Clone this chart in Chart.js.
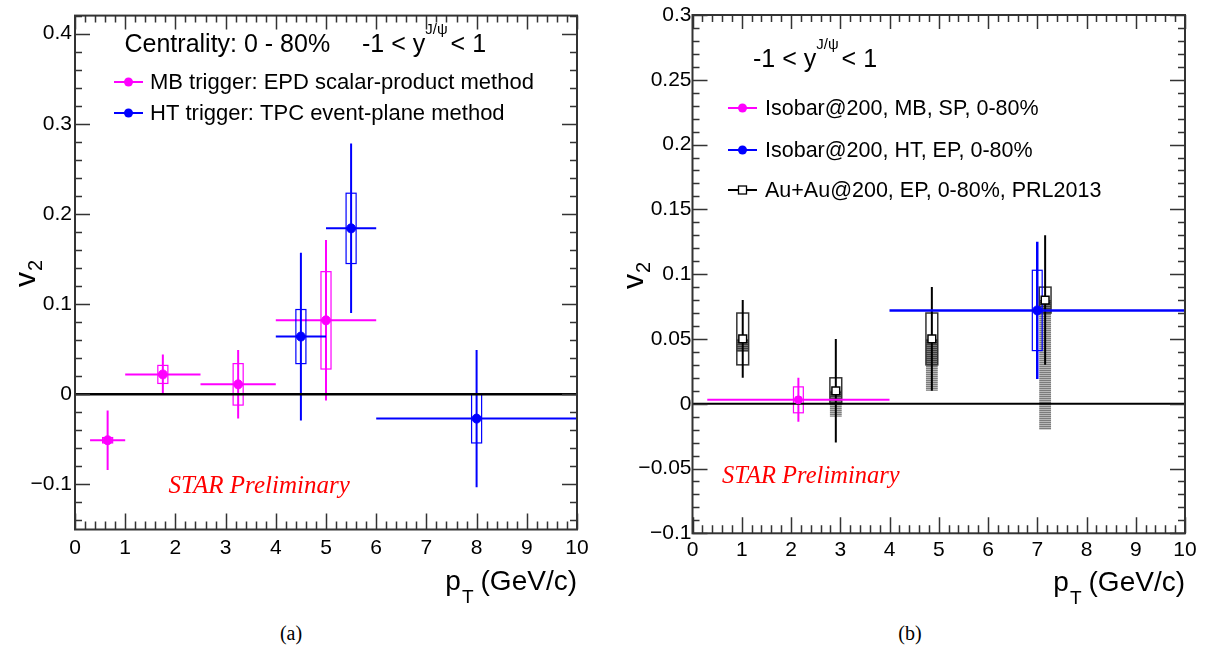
<!DOCTYPE html>
<html lang="en">
<head>
<meta charset="UTF-8">
<title>J/psi v2 vs pT</title>
<script src="https://cdn.jsdelivr.net/npm/chart.js@4.4.1/dist/chart.umd.min.js"></script>
<style>
    body { margin: 0; background: #fff; width: 1215px; height: 655px; position: relative; overflow: hidden; }
    canvas { position: absolute; top: 0; }
    #cA { left: 0; }
    #cB { left: 600px; }
    .caption { position: absolute; top: 622px; width: 60px; text-align: center; font: 20px "Liberation Serif", "Times New Roman", serif; }
</style>
</head>
<body>

<canvas id="cA" width="600" height="615"></canvas>
<canvas id="cB" width="615" height="615"></canvas>
<div class="caption" style="left:261px">(a)</div>
<div class="caption" style="left:880px">(b)</div>

<script>
    // ---- data ----
    const xLimits = [0, 10];
    const xTicks = [0, 1, 2, 3, 4, 5, 6, 7, 8, 9, 10];
    const yTicksA = [-0.1, 0, 0.1, 0.2, 0.3, 0.4];
    const yTicksB = [-0.1, -0.05, 0, 0.05, 0.1, 0.15, 0.2, 0.25, 0.3];

    // (a) MB trigger, EPD scalar-product
    const mbPtA = [0.65, 1.75, 3.25, 5.0];
    const mbLoA = [0.3, 1.0, 2.5, 4.0];
    const mbHiA = [1.0, 2.5, 4.0, 6.0];
    const mbV2A = [-0.051, 0.022, 0.011, 0.082];
    const mbStatA = [0.033, 0.022, 0.038, 0.089];
    const mbSysA = [0.003, 0.010, 0.023, 0.054];

    // (a) HT trigger, TPC event-plane
    const htPtA = [4.5, 5.5, 8.0];
    const htLoA = [4.0, 5.0, 6.0];
    const htHiA = [5.0, 6.0, 10.0];
    const htV2A = [0.064, 0.184, -0.027];
    const htStatA = [0.093, 0.094, 0.076];
    const htSysA = [0.030, 0.039, 0.027];

    // (b) Isobar MB / HT
    const mbPtB = [2.15];
    const mbLoB = [0.3];
    const mbHiB = [4.0];
    const mbV2B = [0.003];
    const mbStatB = [0.017];
    const mbSysB = [0.010];

    const htPtB = [7.0];
    const htLoB = [4.0];
    const htHiB = [10.0];
    const htV2B = [0.072];
    const htStatB = [0.053];
    const htSysB = [0.031];

    // (b) Au+Au PRL2013
    const auPt = [1.02, 2.91, 4.86, 7.16];
    const auV2 = [0.05, 0.01, 0.05, 0.08];
    const auStat = [0.03, 0.04, 0.04, 0.05];
    const auSys = [0.02, 0.01, 0.02, 0.01];
    const auNonflow = [0.01, 0.02, 0.04, 0.10];

    // ---- styling ----
    const FONT = '"Liberation Sans", Arial, Helvetica, sans-serif';
    const SERIF = '"Liberation Serif", "Times New Roman", serif';
    const MAGENTA = '#ff00ff', BLUE = '#0000ff';
    Chart.defaults.font.family = FONT;

    const toXY = (xs, ys) => xs.map((v, i) => ({ x: v, y: ys[i] }));
    const fmt = v => (v < 0 ? '\u2212' : '') + String(+Math.abs(v).toFixed(2));

    function hatchPattern(ctx, dark) {
        const c = document.createElement('canvas');
        c.width = 2; c.height = 2;
        const g = c.getContext('2d');
        g.fillStyle = dark ? '#7a7a7a' : '#b8b8b8';
        g.fillRect(0, 0, 2, 2);
        g.fillStyle = dark ? '#404040' : '#7c7c7c';
        g.fillRect(0, 0, 2, 1);
        return ctx.createPattern(c, 'repeat');
    }

    function line(ctx, x1, y1, x2, y2) {
        ctx.beginPath(); ctx.moveTo(x1, y1); ctx.lineTo(x2, y2); ctx.stroke();
    }

    function drawGroup(ctx, x, y, g) {
        ctx.lineCap = 'butt';
        g.pt.forEach((p, i) => {
            const v = g.v2[i];
            const px = x.getPixelForValue(p), py = y.getPixelForValue(v);
            // systematic box
            ctx.strokeStyle = g.boxColor || g.color;
            ctx.lineWidth = g.boxWidth;
            const bx0 = x.getPixelForValue(p - g.boxHalf), bx1 = x.getPixelForValue(p + g.boxHalf);
            const by0 = y.getPixelForValue(v + g.sys[i]), by1 = y.getPixelForValue(v - g.sys[i]);
            ctx.strokeRect(bx0, by0, bx1 - bx0, by1 - by0);
            // statistical bar
            ctx.strokeStyle = g.color;
            ctx.lineWidth = g.lw;
            line(ctx, px, y.getPixelForValue(v + g.stat[i]), px, y.getPixelForValue(v - g.stat[i]));
            // bin width
            if (g.lo) line(ctx, x.getPixelForValue(g.lo[i]), py, x.getPixelForValue(g.hi[i]), py);
        });
    }

    function drawNonflow(ctx, x, y, h) {
        const light = hatchPattern(ctx, false), dark = hatchPattern(ctx, true);
        h.pt.forEach((p, i) => {
            const x0 = x.getPixelForValue(p - h.boxHalf), x1 = x.getPixelForValue(p + h.boxHalf);
            const top = h.v2[i], low = h.v2[i] - h.nonflow[i];
            const mid = Math.max(low, h.v2[i] - h.sys[i]);
            ctx.fillStyle = dark;
            ctx.fillRect(x0, y.getPixelForValue(top), x1 - x0, y.getPixelForValue(mid) - y.getPixelForValue(top));
            ctx.fillStyle = light;
            ctx.fillRect(x0, y.getPixelForValue(mid), x1 - x0, y.getPixelForValue(low) - y.getPixelForValue(mid));
        });
    }

    function drawFrame(chart, o) {
        const { ctx, chartArea: a, scales: { x, y } } = chart;
        ctx.save();
        ctx.strokeStyle = '#333';
        ctx.lineWidth = 1.5;
        ctx.beginPath();
        const nx = Math.round((x.max - x.min) / o.xMinor);
        for (let k = 0; k <= nx; k++) {
            const v = x.min + k * o.xMinor;
            const major = k % 5 === 0;
            const px = Math.round(x.getPixelForValue(v)) + 0.5;
            ctx.moveTo(px, a.bottom); ctx.lineTo(px, a.bottom - (major ? 16 : 8));
            ctx.moveTo(px, a.top); ctx.lineTo(px, a.top + (major ? 14 : 7));
        }
        const k0 = Math.ceil(y.min / o.yMinor - 1e-6), k1 = Math.floor(y.max / o.yMinor + 1e-6);
        for (let k = k0; k <= k1; k++) {
            const v = k * o.yMinor;
            const major = Math.abs(v / o.yMajor - Math.round(v / o.yMajor)) < 1e-6;
            const py = Math.round(y.getPixelForValue(v)) + 0.5;
            ctx.moveTo(a.left, py); ctx.lineTo(a.left + (major ? 15 : 7), py);
            ctx.moveTo(a.right, py); ctx.lineTo(a.right - (major ? 15 : 7), py);
        }
        ctx.stroke();
        ctx.lineWidth = 2;
        ctx.strokeRect(a.left, a.top, a.right - a.left, a.bottom - a.top);
        ctx.restore();
    }

    function drawTexts(chart, o) {
        const { ctx, chartArea: a } = chart;
        ctx.save();
        ctx.fillStyle = '#000';
        ctx.textBaseline = 'alphabetic';
        // header with superscript
        o.header.forEach(h => {
            let cx = h.x;
            h.parts.forEach(p => {
                ctx.font = p.size + 'px ' + FONT;
                ctx.fillText(p.t, cx, h.y - (p.rise || 0));
                cx += ctx.measureText(p.t).width + (p.gap || 0);
            });
        });
        // legend entries
        const L = o.legend;
        L.items.forEach(it => {
            ctx.strokeStyle = it.color;
            ctx.lineWidth = 2;
            line(ctx, L.x0, it.y, L.x1, it.y);
            const mx = (L.x0 + L.x1) / 2;
            if (it.marker === 'square') {
                ctx.fillStyle = '#fff';
                ctx.fillRect(mx - 4, it.y - 4, 8, 8);
                ctx.lineWidth = 1.3;
                ctx.strokeRect(mx - 4, it.y - 4, 8, 8);
            } else {
                ctx.fillStyle = it.color;
                ctx.beginPath(); ctx.arc(mx, it.y, 4.5, 0, Math.PI * 2); ctx.fill();
            }
            ctx.fillStyle = '#000';
            ctx.font = L.size + 'px ' + FONT;
            ctx.textBaseline = 'middle';
            ctx.fillText(it.label, L.tx, it.y + 1);
        });
        // STAR Preliminary
        ctx.textBaseline = 'alphabetic';
        ctx.fillStyle = '#ff0000';
        ctx.font = 'italic ' + o.star.size + 'px ' + SERIF;
        ctx.fillText('STAR Preliminary', o.star.x, o.star.y);
        // x title p_T (GeV/c), right aligned to the axis end
        ctx.fillStyle = '#000';
        ctx.font = '28px ' + FONT;
        const wUnit = ctx.measureText('(GeV/c)').width;
        ctx.fillText('(GeV/c)', a.right - wUnit, o.xTitleY);
        ctx.font = '19px ' + FONT;
        const wT = ctx.measureText('T').width;
        const tx = a.right - wUnit - 7 - wT;
        ctx.fillText('T', tx, o.xTitleY + 13);
        ctx.font = '28px ' + FONT;
        ctx.fillText('p', tx - 1 - ctx.measureText('p').width, o.xTitleY);
        // y title v_2
        ctx.translate(o.yTitle.x, o.yTitle.y);
        ctx.rotate(-Math.PI / 2);
        ctx.font = '30px ' + FONT;
        ctx.fillText('v', 0, 0);
        const wv = ctx.measureText('v').width;
        ctx.font = '20px ' + FONT;
        ctx.fillText('2', wv + 1, 7);
        ctx.restore();
    }

    const physPlugin = {
        id: 'phys',
        beforeDatasetsDraw(chart, args, o) {
            const { ctx, chartArea: a, scales: { x, y } } = chart;
            ctx.save();
            ctx.beginPath();
            ctx.rect(a.left, a.top, a.right - a.left, a.bottom - a.top);
            ctx.clip();
            if (o.nonflow) drawNonflow(ctx, x, y, o.nonflow);
            o.groups.forEach(g => drawGroup(ctx, x, y, g));
            ctx.restore();
        },
        afterDraw(chart, args, o) {
            drawFrame(chart, o);
            drawTexts(chart, o);
        }
    };

    function makeOptions(o) {
        return {
            responsive: false,
            animation: false,
            layout: { padding: { top: o.top, right: o.right, left: 0, bottom: 0 } },
            plugins: { legend: { display: false }, tooltip: { enabled: false }, phys: o },
            scales: {
                x: {
                    type: 'linear', min: xLimits[0], max: xLimits[1],
                    grid: { display: false, drawTicks: false }, border: { display: false },
                    ticks: { color: '#000', font: { size: 21 }, padding: o.xPad, maxRotation: 0, autoSkip: false, callback: fmt },
                    afterBuildTicks: s => { s.ticks = xTicks.map(v => ({ value: v })); },
                    afterFit: s => { s.height = o.xH; }
                },
                y: {
                    type: 'linear', min: o.yMin, max: o.yMax,
                    grid: { display: false, drawTicks: false }, border: { display: false },
                    ticks: { color: '#000', font: { size: 21 }, padding: o.yPad, autoSkip: false, callback: fmt },
                    afterBuildTicks: s => { s.ticks = o.yTicks.map(v => ({ value: v })); },
                    afterFit: s => { s.width = o.yW; }
                }
            }
        };
    }

    const zeroLine = w => ({
        type: 'line', data: toXY(xLimits, [0, 0]), borderColor: '#000', borderWidth: w,
        pointRadius: 0, order: 2
    });

    // ---- panel (a) ----
    const cfgA = {
        yMin: -0.15, yMax: 0.42, yTicks: yTicksA, yMinor: 0.02, yMajor: 0.1, xMinor: 0.2,
        yW: 75, xH: 85.5, top: 5, right: 23, yPad: 3, xPad: 6,
        groups: [
            { pt: mbPtA, lo: mbLoA, hi: mbHiA, v2: mbV2A, stat: mbStatA, sys: mbSysA, color: MAGENTA, lw: 2, boxHalf: 0.1, boxWidth: 1.2 },
            { pt: htPtA, lo: htLoA, hi: htHiA, v2: htV2A, stat: htStatA, sys: htSysA, color: BLUE, lw: 2, boxHalf: 0.1, boxWidth: 1.2 }
        ],
        header: [
            { x: 124.5, y: 52, parts: [{ t: 'Centrality: 0 - 80%', size: 25 }] },
            { x: 362, y: 52, parts: [{ t: '-1 < y', size: 25 }, { t: 'J/\u03c8', size: 15, rise: 18, gap: 3 }, { t: '< 1', size: 25 }] }
        ],
        legend: {
            x0: 114, x1: 143, tx: 150, size: 22, items: [
                { label: 'MB trigger: EPD scalar-product method', color: MAGENTA, y: 82 },
                { label: 'HT trigger: TPC event-plane method', color: BLUE, y: 113 }
            ]
        },
        star: { x: 168.5, y: 493, size: 25 },
        xTitleY: 590,
        yTitle: { x: 35, y: 287 }
    };

    new Chart(document.getElementById('cA'), {
        type: 'scatter',
        data: {
            datasets: [
                zeroLine(2.5),
                { label: 'MB', data: toXY(mbPtA, mbV2A), backgroundColor: MAGENTA, borderColor: MAGENTA, pointRadius: 4.5, order: 1 },
                { label: 'HT', data: toXY(htPtA, htV2A), backgroundColor: BLUE, borderColor: BLUE, pointRadius: 4.5, order: 1 }
            ]
        },
        options: makeOptions(cfgA),
        plugins: [physPlugin]
    });

    // ---- panel (b) ----
    const cfgB = {
        yMin: -0.1, yMax: 0.3, yTicks: yTicksB, yMinor: 0.01, yMajor: 0.05, xMinor: 0.2,
        yW: 92.5, xH: 81.7, top: 15, right: 30, yPad: 1, xPad: 4,
        nonflow: { pt: auPt, v2: auV2, sys: auSys, nonflow: auNonflow, boxHalf: 0.12 },
        groups: [
            { pt: auPt, v2: auV2, stat: auStat, sys: auSys, color: '#000', boxColor: '#333', lw: 2, boxHalf: 0.12, boxWidth: 1.5 },
            { pt: mbPtB, lo: mbLoB, hi: mbHiB, v2: mbV2B, stat: mbStatB, sys: mbSysB, color: MAGENTA, lw: 2, boxHalf: 0.1, boxWidth: 1.2 },
            { pt: htPtB, lo: htLoB, hi: htHiB, v2: htV2B, stat: htStatB, sys: htSysB, color: BLUE, lw: 2.5, boxHalf: 0.1, boxWidth: 1.2 }
        ],
        header: [
            { x: 153, y: 67, parts: [{ t: '-1 < y', size: 25 }, { t: 'J/\u03c8', size: 15, rise: 18, gap: 3 }, { t: '< 1', size: 25 }] }
        ],
        legend: {
            x0: 128, x1: 157, tx: 165, size: 21.5, items: [
                { label: 'Isobar@200, MB, SP, 0-80%', color: MAGENTA, y: 108 },
                { label: 'Isobar@200, HT, EP, 0-80%', color: BLUE, y: 150 },
                { label: 'Au+Au@200, EP, 0-80%, PRL2013', color: '#000', y: 190, marker: 'square' }
            ]
        },
        star: { x: 122, y: 483, size: 24.5 },
        xTitleY: 591,
        yTitle: { x: 43, y: 289 }
    };

    new Chart(document.getElementById('cB'), {
        type: 'scatter',
        data: {
            datasets: [
                zeroLine(2),
                { label: 'AuAu', data: toXY(auPt, auV2), pointStyle: 'rect', backgroundColor: '#fff', borderColor: '#000', borderWidth: 1.5, pointRadius: 5.5, order: 1 },
                { label: 'MB', data: toXY(mbPtB, mbV2B), backgroundColor: MAGENTA, borderColor: MAGENTA, pointRadius: 4, order: 1 },
                { label: 'HT', data: toXY(htPtB, htV2B), backgroundColor: BLUE, borderColor: BLUE, pointRadius: 4.5, order: 1 }
            ]
        },
        options: makeOptions(cfgB),
        plugins: [physPlugin]
    });
</script>

</body>
</html>
